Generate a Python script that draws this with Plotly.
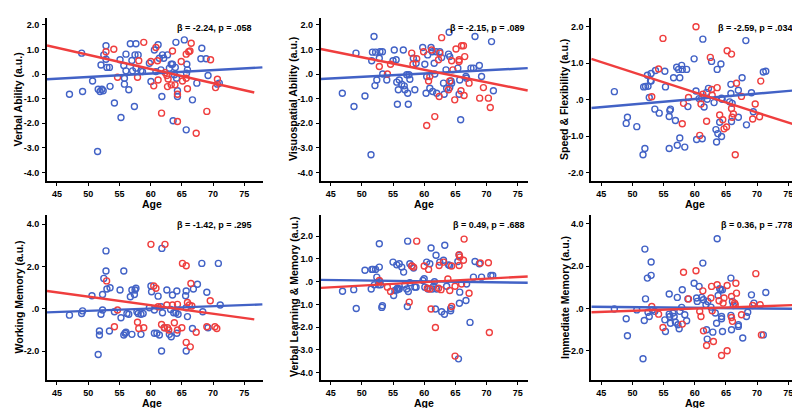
import plotly.graph_objects as go
from plotly.subplots import make_subplots

BLUE = "#4262c6"
RED = "#ef3e3e"
FONT = "Liberation Sans, Arial, sans-serif"

titles = ["Verbal Ability (a.u.)", "Visuospatial Ability (a.u.)", "Speed & Flexibility (a.u.)",
          "Working Memory (a.u.)", "Verbal Learning & Memory (a.u.)", "Immediate Memory (a.u.)"]
stats = ["β = -2.24, p = .058", "β = -2.15, p = .089", "β = -2.59, p = .034",
         "β = -1.42, p = .295", "β = 0.49, p = .688", "β = 0.36, p = .778"]
x_ticks = [45, 50, 55, 60, 65, 70, 75]
y_ticks_a = [-4, -3, -2, -1, 0, 1, 2]
y_ticks_b = [-2, -1, 0, 1, 2]
y_ticks_c = [-2, 0, 2, 4]

# ---------------- Panel 1: Verbal Ability ----------------
p1_blue_x = [47.0, 48.95, 49.1, 50.7, 51.5, 51.6, 51.9, 52.2, 52.4, 52.05, 52.5, 52.85, 52.85, 53.0, 53.4, 53.5,
             54.2, 55.1, 55.25, 55.7, 55.8, 55.8, 56.05, 56.05, 56.5, 56.75, 57.0, 57.1, 57.4, 57.5, 57.65,
             57.65, 58.0, 58.45, 58.7, 59.8, 60.05, 60.6, 60.85, 61.2, 61.4, 61.65, 61.8, 61.9, 62.1, 62.7,
             63.0, 63.3, 63.5, 63.8, 63.95, 63.6, 64.05, 64.15, 64.3, 64.3, 65.4, 65.7, 65.8, 65.75, 65.9,
             66.7, 67.4, 68.2, 68.05, 68.9, 69.2, 70.7, 71.0]
p1_blue_y = [-0.82, 0.85, -0.71, -0.28, -3.15, -0.62, -0.71, -0.62, -0.68, 0.37, 0.78, 1.15, 0.6, 0.27, 0.27,
             -0.5, -1.18, 0.58, -1.77, 0.35, -0.17, -0.41, 0.81, 0.13, -0.64, 1.23, 0.55, 0.13, -1.32, 0.78,
             1.23, 0.24, 0.78, 0.13, 0.1, 0.44, -0.3, 0.98, 0.1, 1.19, 0.64, 0.17, -0.91, 0.78, 0.64, 0.78,
             0.24, 0.4, 0.4, -0.03, 0.27, -1.9, 1.29, -0.17, -0.68, -0.91, 1.39, -2.27, 0.4, 0.03, 0.17,
             -1.05, -0.37, 1.05, 0.62, 0.62, -0.06, -0.41, -0.37]
p1_red_x = [52.85, 54.1, 54.7, 57.9, 58.1, 58.9, 60.05, 60.5, 60.85, 61.1, 61.2, 61.75, 62.3, 62.6, 62.7,
            62.8, 63.3, 63.5, 63.9, 64.3, 64.3, 64.9, 65.1, 65.7, 65.7, 65.9, 66.1, 66.3, 66.5, 67.3, 69.0,
            69.6, 70.4, 70.7]
p1_red_y = [0.91, 1.01, -0.13, -0.13, 0.54, 1.29, 0.51, -0.48, 1.08, 0.54, -0.24, -1.59, 0.06, -0.06, -0.51,
            -0.2, -0.44, 0.94, -0.44, -1.93, -0.82, 0.51, -0.28, -0.17, 0.81, -0.6, 0.91, 0.94, 1.25, -2.41,
            -1.52, 0.58, -0.55, -0.21]
p1_blue_line_x = [43.4, 77.9]
p1_blue_line_y = [-0.21, 0.27]
p1_red_line_x = [43.4, 76.6]
p1_red_line_y = [1.16, -0.75]

# ---------------- Panel 2: Visuospatial Ability ----------------
p2_blue_x = [46.87, 48.74, 49.06, 50.5, 51.47, 51.58, 51.7, 51.95, 52.2, 52.1, 52.4, 52.8, 52.9, 53.3, 53.35,
             54.0, 55.0, 55.2, 55.5, 55.6, 55.7, 55.85, 56.0, 56.4, 56.65, 56.8, 56.9, 57.2, 57.35, 57.45,
             57.56, 57.7, 58.26, 58.5, 58.7, 59.76, 60.1, 60.3, 60.4, 60.56, 60.9, 61.1, 61.3, 61.36, 61.6,
             61.7, 61.9, 62.0, 62.5, 62.8, 63.1, 63.2, 63.5, 63.6, 63.9, 64.0, 64.1, 64.1, 64.3, 64.4, 65.4,
             65.6, 65.7, 65.85, 66.7, 66.8, 67.5, 67.9, 68.15, 68.85, 69.2, 70.8, 71.1]
p2_blue_y = [-0.78, -1.32, 0.85, -0.89, -3.28, 0.54, 0.89, 1.53, 0.89, -0.47, -0.24, 0.64, 0.91, 0.91, 0.0,
             -0.24, 0.54, 0.98, 0.58, -0.33, -1.23, -0.64, -0.24, -0.41, 0.98, -0.48, -0.64, -0.03, -0.78,
             -1.23, -0.03, -0.21, 0.64, -0.64, 0.44, 1.08, 0.4, -0.78, -0.1, 0.78, -0.58, 1.08, 0.91, -0.71,
             0.44, 0.0, 0.91, -0.78, 0.91, 0.67, -0.37, -0.82, 0.17, -0.58, 0.81, 1.7, 0.71, -0.55, -0.28,
             -0.37, 0.24, -0.82, -0.24, -1.86, -0.1, -0.17, 0.24, 0.24, 1.53, 0.35, -0.1, 1.32, -0.68]
p2_red_x = [52.8, 54.1, 54.6, 58.0, 58.2, 58.8, 59.9, 60.4, 60.7, 60.9, 61.2, 61.7, 62.3, 62.4, 62.5, 62.8,
            63.9, 64.1, 64.4, 64.6, 64.9, 65.1, 65.6, 65.6, 65.9, 66.0, 66.3, 66.4, 66.5, 67.2, 68.9, 69.5,
            70.3, 70.6]
p2_red_y = [0.31, 0.0, 0.4, 0.85, 0.4, 0.62, 0.91, -2.09, -0.28, -0.1, 0.98, -1.73, 0.58, -0.91, 0.85, 1.48,
            -0.64, -0.28, 0.54, 0.17, -1.05, 1.02, 0.51, 0.58, -0.68, 1.15, 1.15, -0.87, 0.71, -0.37, -0.98,
            -0.55, -0.98, -1.36]
p2_blue_line_x = [43.4, 76.6]
p2_blue_line_y = [-0.2, 0.24]
p2_red_line_x = [43.4, 76.6]
p2_red_line_y = [1.02, -0.67]

# ---------------- Panel 3: Speed & Flexibility ----------------
p3_blue_x = [47.1, 49.2, 49.0, 50.7, 51.7, 52.0, 51.8, 52.1, 52.5, 52.4, 52.7, 53.0, 53.0, 52.9, 53.6, 53.7,
             54.3, 55.3, 55.2, 55.9, 56.0, 56.1, 55.9, 56.6, 56.9, 57.1, 57.2, 57.6, 57.4, 57.6, 57.9, 58.0,
             58.4, 58.7, 58.9, 59.9, 60.2, 60.3, 60.7, 61.1, 61.2, 61.3, 61.5, 61.9, 62.0, 62.2, 62.7, 63.1,
             63.4, 63.5, 63.6, 63.7, 64.0, 64.2, 64.3, 64.3, 64.4, 65.8, 65.8, 65.6, 66.0, 65.9, 67.0, 67.0,
             67.6, 68.3, 68.2, 69.1, 69.4, 71.0, 71.4]
p3_blue_y = [0.22, -0.48, -0.65, -0.74, -1.51, -1.34, 0.35, 0.36, 0.37, 0.67, 0.06, 0.51, 0.72, 0.52, -0.26,
             0.8, -0.37, 0.35, 0.78, -0.46, -0.3, -0.26, -1.34, 0.6, -0.57, 0.89, -1.25, 0.6, 0.83, -1.05,
             0.94, 0.83, -1.3, 0.83, -0.19, 1.12, 0.24, -1.09, 0.03, 0.03, -1.07, 1.66, -0.2, 0.2, 0.01, 0.31,
             1.05, -0.08, -0.82, -1.16, 0.83, -0.93, -0.62, 0.98, -1.01, 0.04, 0.01, 0.42, 0.17, -0.06, -0.1,
             -0.6, 0.26, -0.48, 0.6, -0.69, 1.62, 0.19, -0.33, 0.76, 0.78]
p3_red_x = [53.1, 54.2, 54.9, 58.2, 58.0, 59.0, 60.2, 60.8, 61.0, 61.3, 61.9, 62.5, 62.7, 62.8, 63.6, 64.0,
            64.5, 64.7, 65.1, 65.2, 65.9, 65.9, 66.0, 66.2, 66.5, 66.7, 67.5, 69.3, 69.7, 70.6, 70.4]
p3_red_y = [0.08, 0.84, 1.68, -0.1, -0.66, 0.06, 2.0, -0.98, -0.12, 0.15, -0.59, 1.16, 0.28, 0.12, 0.33, -0.42,
            -0.55, -0.8, -0.75, 1.34, 1.25, -0.24, -0.48, -0.39, -1.51, 0.45, 0.09, -0.53, -0.12, 0.51, -0.47]
p3_blue_line_x = [43.4, 77.0]
p3_blue_line_y = [-0.23, 0.27]
p3_red_line_x = [43.4, 77.0]
p3_red_line_y = [1.12, -0.74]

# ---------------- Panel 4: Working Memory ----------------
p4_blue_x = [47.0, 48.95, 49.1, 50.6, 51.6, 51.8, 51.8, 52.05, 52.3, 52.3, 52.5, 52.85, 52.85, 53.0, 53.4,
             53.5, 54.2, 55.1, 55.25, 55.7, 55.7, 55.9, 56.05, 56.2, 56.5, 56.75, 57.0, 57.0, 57.4, 57.5,
             57.65, 57.8, 58.0, 58.45, 58.45, 58.8, 59.8, 60.05, 60.15, 60.6, 60.6, 61.0, 61.2, 61.4, 61.65,
             61.75, 61.8, 61.9, 62.2, 62.6, 63.0, 63.3, 63.2, 63.5, 63.7, 64.05, 64.2, 64.2, 64.4, 65.7, 65.7,
             65.7, 65.9, 65.6, 66.7, 66.85, 67.5, 68.2, 68.35, 69.0, 69.2, 70.85, 71.15]
p4_blue_y = [-0.3, -0.22, -0.1, 0.62, -2.16, -1.24, -1.05, -0.26, 0.68, -0.06, 1.44, 2.74, 1.79, 0.94, -1.05,
             1.0, -0.14, 0.89, -0.42, 1.79, -1.24, -1.16, -1.11, -0.22, -0.26, 0.57, 0.89, -1.21, 0.68, 0.89,
             0.97, -0.14, -0.22, -1.21, -0.26, -0.22, 0.05, 1.08, 0.81, -1.16, -0.06, -1.16, 0.6, -1.24, 0.1,
             -2.0, 2.86, -0.19, -0.9, 0.89, -1.21, -1.32, -0.03, 0.65, -0.19, -0.19, 0.84, -1.16, -0.26, -2.0,
             0.05, 0.84, -0.37, 0.62, -0.93, 0.94, 1.16, 2.15, -0.14, 0.78, -0.9, 2.15, 0.18]
p4_red_x = [52.95, 54.2, 54.7, 57.9, 58.1, 58.9, 60.05, 60.5, 60.85, 61.2, 61.75, 62.2, 62.3, 62.6, 62.7, 62.9,
            63.5, 63.8, 64.3, 64.3, 65.0, 65.1, 65.7, 65.7, 65.9, 66.2, 66.35, 66.45, 66.6, 67.3, 69.0, 69.55,
            70.3, 70.6]
p4_red_y = [1.32, -0.85, -0.06, -0.64, -0.93, -0.9, 3.05, 1.08, 0.97, 0.1, -0.74, -0.9, 3.05, 0.18, -0.9, -1.0,
            0.18, -0.66, 0.21, -1.0, -0.9, 2.15, 2.04, -1.59, 0.3, 0.18, -1.8, 1.2, 0.13, -1.11, -0.85, 0.38,
            -0.85, -0.93]
p4_blue_line_x = [43.4, 77.9]
p4_blue_line_y = [-0.17, 0.21]
p4_red_line_x = [43.4, 76.6]
p4_red_line_y = [0.84, -0.5]

# ---------------- Panel 5: Verbal Learning & Memory ----------------
p5_blue_x = [46.9, 48.7, 49.1, 50.5, 51.5, 51.6, 51.8, 52.0, 52.2, 52.4, 52.65, 52.8, 52.8, 52.9, 53.0, 53.2,
             53.3, 55.0, 55.1, 55.3, 55.6, 55.6, 55.7, 55.85, 56.0, 56.0, 56.4, 56.7, 56.9, 57.2, 57.3, 57.35,
             57.45, 57.7, 57.7, 58.0, 58.3, 58.5, 58.7, 59.8, 60.0, 60.1, 60.4, 60.6, 60.9, 61.1, 61.3, 61.5,
             61.65, 61.8, 61.9, 62.0, 62.5, 62.8, 63.1, 63.25, 63.3, 63.6, 63.9, 64.1, 64.25, 64.25, 65.4, 65.5,
             65.6, 65.65, 65.7, 66.7, 66.8, 67.35, 67.9, 68.15, 68.85, 69.2, 70.7, 71.0]
p5_blue_y = [-0.42, -0.35, -1.18, 0.5, -0.32, 0.54, 0.54, -0.14, 0.54, 0.2, -0.14, 1.67, 0.64, 0.0, -0.14,
             -1.13, -1.06, 0.86, -0.61, -0.39, 0.74, -0.36, -0.29, -0.32, 0.79, -0.32, 0.64, 0.42, -0.14, -0.32,
             -1.09, 1.78, -0.43, -0.05, 0.79, 0.69, 0.6, -0.24, -0.24, 0.05, 0.13, -0.24, 0.86, -0.32, 0.79,
             1.48, -0.32, -0.2, 0.0, -1.2, 1.16, -0.32, 0.86, -1.32, 0.94, -1.43, 1.6, -0.2, 0.74, 0.71, -1.28,
             -1.18, 0.89, -3.39, 1.16, -0.95, -0.46, -0.83, -0.1, -1.79, 0.2, 0.89, 0.79, 0.2, 0.27, 0.27]
p5_red_x = [52.8, 54.1, 54.6, 57.6, 58.0, 58.3, 58.8, 60.0, 60.5, 60.7, 60.9, 61.1, 61.8, 62.3, 62.4, 62.7,
            63.1, 63.8, 64.1, 64.4, 64.4, 64.95, 64.95, 65.6, 65.6, 65.7, 66.0, 66.3, 66.4, 67.2, 69.0, 70.3,
            70.45]
p5_red_y = [0.05, -0.24, -0.43, -0.9, 0.69, 0.64, 1.78, 0.69, -0.29, 0.54, -0.32, -1.2, -2.01, -0.29, 0.71,
            -0.35, 0.86, 0.12, -0.39, -1.09, 0.69, -0.2, -3.27, 1.19, 0.71, 1.08, -0.1, 0.94, 1.87, -0.51, 0.82,
            0.83, -2.23]
p5_blue_line_x = [43.4, 76.6]
p5_blue_line_y = [0.08, -0.05]
p5_red_line_x = [43.4, 76.6]
p5_red_line_y = [-0.27, 0.23]

# ---------------- Panel 6: Immediate Memory ----------------
p6_blue_x = [47.1, 49.0, 49.2, 50.7, 51.7, 51.9, 52.0, 52.1, 52.4, 52.5, 52.7, 53.0, 53.0, 53.2, 53.6, 55.2,
             55.3, 55.9, 55.9, 56.0, 56.1, 56.5, 56.7, 56.9, 57.2, 57.3, 57.5, 57.6, 57.9, 58.0, 58.4, 58.7,
             58.9, 59.9, 60.3, 60.4, 60.7, 61.1, 61.3, 61.4, 61.8, 61.9, 62.0, 62.1, 62.6, 62.9, 63.3, 63.5,
             63.6, 63.75, 64.0, 64.2, 64.3, 64.3, 64.45, 64.45, 65.8, 65.8, 65.9, 66.05, 66.2, 67.0, 67.0,
             67.7, 68.3, 68.5, 69.1, 69.5, 71.0, 71.4]
p6_blue_y = [-0.02, -0.48, -1.28, -0.06, -2.37, -0.56, 2.81, 0.46, 1.44, -0.17, -0.37, 2.2, 1.57, -0.06, -0.13,
             -0.53, -1.08, 0.69, -0.26, -0.37, -0.69, -0.21, -0.37, -0.64, 0.53, -0.76, -0.95, -0.13, 0.06, 0.89,
             -0.29, -0.57, 0.46, 1.2, 0.5, 0.34, 1.05, 0.53, 2.15, 0.42, 0.18, -1.0, -1.44, 0.34, 0.07, -1.11,
             -0.21, -0.69, 3.3, 0.62, 0.94, 0.89, -0.48, -0.37, -1.08, 0.89, 1.44, -0.32, -1.0, 0.34, 0.15,
             -0.76, -0.84, -1.39, -0.37, -0.17, 0.65, 0.26, -1.24, 0.76]
p6_red_x = [53.1, 54.2, 54.9, 58.2, 58.0, 59.0, 60.2, 60.8, 61.0, 61.3, 61.4, 61.9, 62.7, 62.6, 62.8, 63.0,
            63.6, 63.9, 64.3, 64.55, 64.7, 65.2, 65.2, 65.9, 65.9, 66.05, 66.4, 66.5, 66.6, 66.7, 67.5, 69.3,
            69.8, 70.5, 70.7]
p6_red_y = [0.1, -0.26, -0.89, 1.72, -0.73, 0.46, 1.79, -0.13, -0.37, 0.84, -1.05, -1.74, 1.05, 0.5, -0.1,
            -1.55, 1.13, 0.37, -2.21, 0.26, 0.5, 1.09, -1.99, 0.57, -0.42, -0.6, 0.26, 0.18, 1.2, 0.73, -0.29,
            0.15, 1.65, 0.18, -1.24]
p6_blue_line_x = [43.4, 77.0]
p6_blue_line_y = [0.09, -0.01]
p6_red_line_x = [43.4, 77.0]
p6_red_line_y = [-0.17, 0.18]

panels = [
    (p1_blue_x, p1_blue_y, p1_red_x, p1_red_y, p1_blue_line_x, p1_blue_line_y, p1_red_line_x, p1_red_line_y),
    (p2_blue_x, p2_blue_y, p2_red_x, p2_red_y, p2_blue_line_x, p2_blue_line_y, p2_red_line_x, p2_red_line_y),
    (p3_blue_x, p3_blue_y, p3_red_x, p3_red_y, p3_blue_line_x, p3_blue_line_y, p3_red_line_x, p3_red_line_y),
    (p4_blue_x, p4_blue_y, p4_red_x, p4_red_y, p4_blue_line_x, p4_blue_line_y, p4_red_line_x, p4_red_line_y),
    (p5_blue_x, p5_blue_y, p5_red_x, p5_red_y, p5_blue_line_x, p5_blue_line_y, p5_red_line_x, p5_red_line_y),
    (p6_blue_x, p6_blue_y, p6_red_x, p6_red_y, p6_blue_line_x, p6_blue_line_y, p6_red_line_x, p6_red_line_y),
]

y_ranges = [[-4.35, 2.28], [-4.35, 2.28], [-2.23, 2.24], [-3.37, 4.44], [-4.32, 2.93], [-3.37, 4.42]]
y_tickvals = [y_ticks_a, y_ticks_a, y_ticks_b, y_ticks_c, y_ticks_a, y_ticks_c]
x_ranges = [[43.4, 78.0], [43.4, 76.65], [43.4, 77.05]] * 2

W, H = 800, 408
# plot-area pixel boxes (left, right) per column and (top, bottom) per row
col_px = [(39, 255), (312.7, 520), (583.3, 793)]
row_px = [(10, 173), (207, 372)]


def fmt(v):
    return ".0" if v == 0 else f"{v:.1f}"


fig = make_subplots(rows=2, cols=3)

for i, (bx, by, rx, ry, blx, bly, rlx, rly) in enumerate(panels):
    r, c = i // 3 + 1, i % 3 + 1
    fig.add_trace(go.Scatter(x=bx, y=by, mode="markers", showlegend=False,
                             marker=dict(symbol="circle-open", size=6, color=BLUE, line=dict(width=1.4))),
                  row=r, col=c)
    fig.add_trace(go.Scatter(x=rx, y=ry, mode="markers", showlegend=False,
                             marker=dict(symbol="circle-open", size=6, color=RED, line=dict(width=1.4))),
                  row=r, col=c)
    fig.add_trace(go.Scatter(x=blx, y=bly, mode="lines", showlegend=False,
                             line=dict(color=BLUE, width=2.4)), row=r, col=c)
    fig.add_trace(go.Scatter(x=rlx, y=rly, mode="lines", showlegend=False,
                             line=dict(color=RED, width=2.4)), row=r, col=c)

    x0, x1 = col_px[c - 1]
    y0, y1 = row_px[r - 1]
    axis_common = dict(showline=True, linecolor="black", linewidth=2, ticks="outside", ticklen=3,
                       tickwidth=1.2, tickcolor="black", showgrid=False, zeroline=False,
                       tickfont=dict(family=FONT, size=9, color="black", weight="bold"))
    fig.update_xaxes(range=x_ranges[i], domain=[x0 / W, x1 / W], tickvals=x_ticks,
                     ticktext=[str(t) for t in x_ticks], ticklabelstandoff=0, row=r, col=c, **axis_common)
    fig.update_yaxes(range=y_ranges[i], domain=[1 - y1 / H, 1 - y0 / H], tickvals=y_tickvals[i],
                     ticktext=[fmt(t) for t in y_tickvals[i]], ticklabelstandoff=1, row=r, col=c,
                     **axis_common)

    # y-axis title
    title_x = [10, 285.5, 556.5][c - 1]
    fig.add_annotation(x=title_x / W, y=1 - (y0 + y1) / 2 / H, xref="paper", yref="paper",
                       text="<b>" + titles[i].replace("&", "&amp;") + "</b>", textangle=-90,
                       showarrow=False, xanchor="center", yanchor="middle",
                       font=dict(family=FONT, size=10.5, color="black"))
    # x-axis title
    age_x = [143.5, 416, 687][c - 1]
    fig.add_annotation(x=age_x / W, y=1 - (y1 + 15.5) / H, xref="paper", yref="paper",
                       text="<b>Age</b>", showarrow=False, xanchor="center", yanchor="top",
                       borderpad=0, font=dict(family=FONT, size=10.5, color="black"))
    # statistics
    stat_right = [245.5, 518.5, 786.5][c - 1]
    fig.add_annotation(x=stat_right / W, y=1 - (y0 + 10) / H, xref="paper", yref="paper",
                       text="<b>" + stats[i] + "</b>", showarrow=False, xanchor="right", yanchor="middle",
                       font=dict(family=FONT, size=9, color="black"))

fig.update_layout(width=W, height=H, margin=dict(l=0, r=0, t=0, b=0),
                  paper_bgcolor="white", plot_bgcolor="white", showlegend=False)

fig.write_html("out.html")
